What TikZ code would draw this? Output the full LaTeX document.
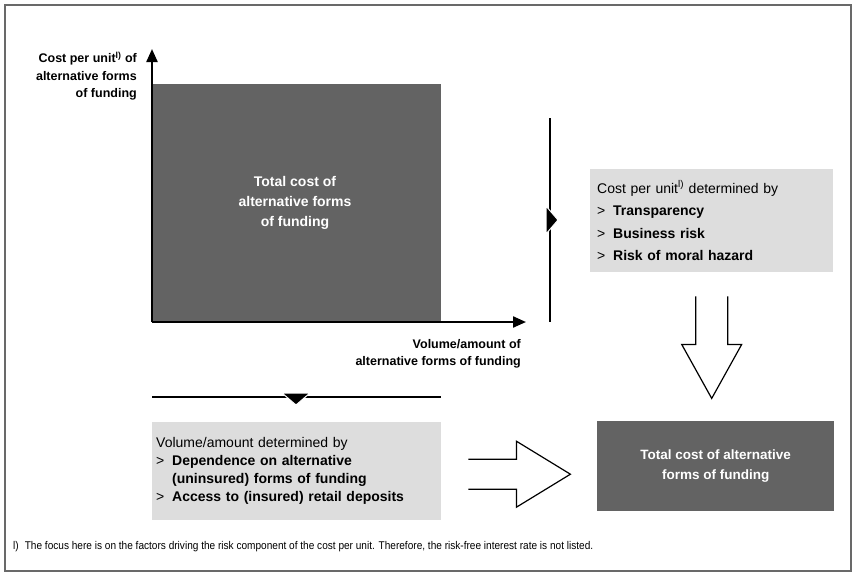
\documentclass[tikz,border=0pt]{standalone}
\usepackage{fontspec}
\setmainfont{Liberation Sans}
\newfontfamily\notefont[FakeStretch=0.9]{Liberation Sans}
\usetikzlibrary{arrows.meta}
\definecolor{darkgrey}{RGB}{99,99,99}
\definecolor{lightgrey}{RGB}{221,221,221}
\definecolor{framegrey}{RGB}{105,105,105}
\newcommand{\itm}[1]{\makebox[16pt][l]{>}\textbf{#1}}
\newcommand{\fnl}{\textsuperscript{l)}}
\tikzset{
  axis/.style={line width=2.2pt,-{Triangle[length=13pt,width=11pt]}},
  darkbox/.style={fill=darkgrey,text=white,inner sep=0pt,align=center,
    font=\fontsize{14}{20}\selectfont\bfseries},
  lightbox/.style={fill=lightgrey,text=black,align=left,anchor=north west,
    font=\fontsize{14}{18}\selectfont},
  openarrow/.style={line width=1.2pt,line join=miter}
}
\begin{document}
\begin{tikzpicture}[x=1pt,y=-1pt]
\useasboundingbox (0,0) rectangle (856,576);
\draw[framegrey,line width=2pt] (5,5) rectangle (851,571);
\coordinate (O) at (152,322);
\coordinate (ytop) at (152,49);
\coordinate (xend) at (526,322);
\node[darkbox,minimum width=289,minimum height=238,anchor=south west] (area) at (O) {};
\node[darkbox] (arealabel) at (295,203) {Total cost of\\alternative forms\\of funding};
\draw[axis] (O) -- (ytop);
\draw[axis] (O) -- (xend);
\node[anchor=north east,align=right,inner sep=0pt,
  font=\fontsize{12.5}{17.5}\selectfont\bfseries] (ylabel) at (137,52)
  {Cost per unit\fnl{} of\\alternative forms\\of funding};
\node[anchor=north east,align=right,inner sep=0pt,
  font=\fontsize{12.5}{17.5}\selectfont\bfseries] (xlabel) at (521,339)
  {Volume/amount of\\alternative forms of funding};
\coordinate (vtop) at (550,118);
\coordinate (vbot) at (550,322);
\draw[line width=2.6pt] (vtop) -- (vbot);
\filldraw[draw=white,line width=1pt,fill=black] (546,206) -- (558,220) -- (546,234) -- cycle;
\coordinate (hleft) at (152,397);
\coordinate (hright) at (441,397);
\draw[line width=2.6pt] (hleft) -- (hright);
\filldraw[draw=white,line width=1pt,fill=black] (282,393) -- (310,393) -- (296,405) -- cycle;
\node[lightbox,minimum width=243,minimum height=103,inner xsep=7pt,text width=229pt,
  font=\fontsize{14}{22.5}\selectfont] (costbox) at (590,169)
  {Cost per unit\fnl{} determined by\\\itm{Transparency}\\\itm{Business risk}\\\itm{Risk of moral hazard}};
\node[lightbox,minimum width=289,minimum height=98,inner xsep=4pt,text width=281pt] (volbox) at (152,422)
  {Volume/amount determined by\\\itm{Dependence on alternative}\\\hspace*{16pt}\textbf{(uninsured) forms of funding}\\\itm{Access to (insured) retail deposits}};
\node[darkbox,minimum width=237,minimum height=90,anchor=north west,
  font=\fontsize{13.5}{20}\selectfont\bfseries] (total) at (597,421)
  {Total cost of alternative\\forms of funding};
\draw[openarrow] (costbox.south) ++(-16,24) -- ++(0,48) -- ++(-14,0) -- ++(30,54)
  -- ++(30,-54) -- ++(-14,0) -- ++(0,-48);
\draw[openarrow] (volbox.east) ++(27,-12) -- ++(48,0) -- ++(0,-18) -- ++(54,33)
  -- ++(-54,33) -- ++(0,-18) -- ++(-48,0);
\node[anchor=west,inner sep=0pt,font=\notefont\fontsize{11.2}{13}\selectfont] (note) at (13,547)
  {l)\hspace{6pt}The focus here is on the factors driving the risk component of the cost per unit. Therefore, the risk-free interest rate is not listed.};
\end{tikzpicture}
\end{document}
